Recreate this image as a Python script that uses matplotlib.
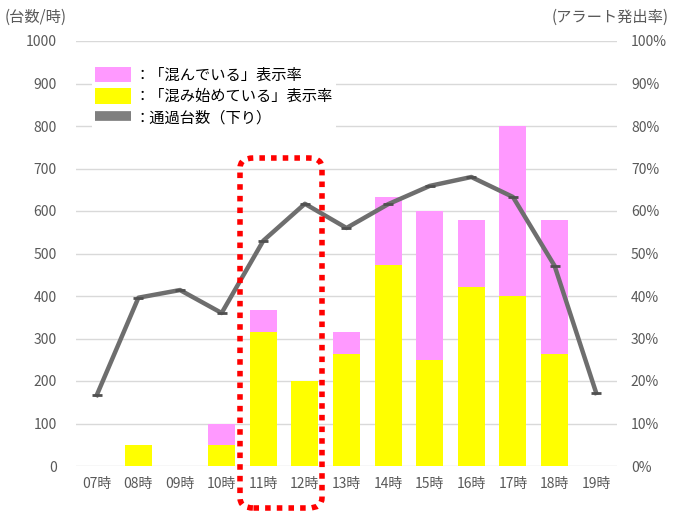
import matplotlib
matplotlib.use("Agg")
import matplotlib.pyplot as plt
from matplotlib.patches import Patch, FancyBboxPatch
from matplotlib.lines import Line2D
import numpy as np

plt.rcParams['font.family'] = ['Noto Sans CJK JP', 'DejaVu Sans']

hours = ["07時", "08時", "09時", "10時", "11時", "12時", "13時",
         "14時", "15時", "16時", "17時", "18時", "19時"]
# alert rates (%)
rate_starting = [0, 5, 0, 5, 31.6, 20, 26.3, 47.4, 25, 42.1, 40, 26.3, 0]
rate_crowded = [0, 0, 0, 5, 5.2, 0, 5.3, 15.8, 35, 15.8, 40, 31.6, 0]
# traffic volume (vehicles / hour, outbound)
traffic = [167, 396, 414, 360, 530, 617, 560, 616, 659, 680, 633, 471, 172]

left_ticks = list(range(0, 1001, 100))
right_ticks = list(range(0, 101, 10))

GRAY_TXT = "#595959"
PINK = "#FF99FF"
YELLOW = "#FFFF00"
LINE = "#6E6E6E"

fig = plt.figure(figsize=(6.73, 5.13), dpi=100)
ax = fig.add_axes([76 / 673, 1 - 466 / 513, 541 / 673, 425 / 513])
x = np.arange(len(hours))

# bars: alert rates on the right-hand scale
ax.bar(x, rate_starting, width=0.65, color=YELLOW, zorder=2)
ax.bar(x, rate_crowded, width=0.65, bottom=rate_starting, color=PINK, zorder=2)
ax.set_ylim(0, 100)
ax.set_xlim(-0.5, len(hours) - 0.5)
ax.grid(axis="y", color="#D9D9D9", lw=1, zorder=0)
ax.set_axisbelow(True)
ax.set_xticks(x)
ax.set_xticklabels(hours)

# line: traffic volume on the left-hand scale
ax2 = ax.twinx()
ax2.plot(x, traffic, color=LINE, lw=3.2, marker="_", markersize=7,
         markeredgewidth=2, markeredgecolor="#505050", zorder=3)
ax2.set_ylim(0, 1000)
ax2.set_yticks(left_ticks)
ax2.yaxis.tick_left()

ax.yaxis.tick_right()
ax.set_yticks(right_ticks)
ax.set_yticklabels([f"{t}%" for t in right_ticks])

for a in (ax, ax2):
    for s in a.spines.values():
        s.set_visible(False)
    a.tick_params(length=0, colors=GRAY_TXT, labelsize=10)
ax.tick_params(axis="y", pad=10)
ax2.tick_params(axis="y", pad=14)
ax.tick_params(axis="x", pad=8)

fig.text(5 / 673, 1 - 17 / 513, "(台数/時)", fontsize=11, color=GRAY_TXT,
         ha="left", va="center")
fig.text(669 / 673, 1 - 17 / 513, "(アラート発出率)", fontsize=11, color=GRAY_TXT,
         ha="right", va="center")

handles = [Patch(facecolor=PINK), Patch(facecolor=YELLOW),
           Line2D([0], [0], color="#7F7F7F", lw=7, solid_capstyle="butt")]
labels = ["：「混んでいる」表示率", "：「混み始めている」表示率", "：通過台数（下り）"]
leg = ax2.legend(handles, labels, loc="upper left",
                 bbox_to_anchor=(0.015, 0.965), frameon=True, framealpha=1,
                 edgecolor="none", fontsize=11, handlelength=2.4,
                 handleheight=1.2, handletextpad=0.2, labelspacing=0.3,
                 borderpad=0.2)
leg.set_zorder(5)

# highlight around 11時–12時
box = FancyBboxPatch((240 / 673, 1 - 508 / 513), 82 / 673, 350 / 513,
                     boxstyle="round,pad=0,rounding_size=0.02",
                     transform=fig.transFigure, fill=False, edgecolor="#FF0000",
                     lw=4, linestyle=(0, (1, 1.1)), clip_on=False, zorder=10)
fig.add_artist(box)

fig.savefig("out.png", dpi=100)
